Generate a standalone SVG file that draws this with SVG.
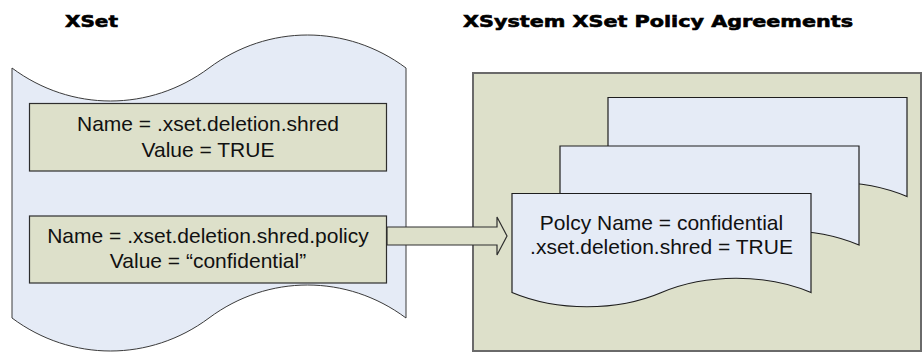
<svg xmlns="http://www.w3.org/2000/svg" width="922" height="352" viewBox="0 0 922 352">
<style>
.title{font-family:"DejaVu Sans","Liberation Sans",sans-serif;font-weight:bold;font-size:16.5px;fill:#000;stroke:#000;stroke-width:0.6}
.txt{font-family:"Liberation Sans",Arial,sans-serif;font-size:21px;fill:#111;text-anchor:middle}
.tape{fill:#e5ebf6;stroke:#3a3a3a;stroke-width:1}
.olive{fill:#dde0ca;stroke:#2e2e2e;stroke-width:1.2}
.doc{fill:#e5ebf6;stroke:#1e1e1e;stroke-width:1.2}
.container{fill:#dde0ca;stroke:#6a6a6a;stroke-width:2}
</style>
<defs>
<path id="docShape" d="M0,0 H299 V99 C254,80 194,80 149.5,99 C105,118 45,118 0,99 Z"/>
</defs>
<g id="title-xset"><text class="title" x="65" y="27" textLength="53" lengthAdjust="spacingAndGlyphs">XSet</text></g>
<g id="title-agreements"><text class="title" x="463" y="27" textLength="390" lengthAdjust="spacingAndGlyphs">XSystem XSet Policy Agreements</text></g>
<g id="xset">
<path class="tape" d="M12,68 C71,112 150,112 209,68 C268,24 347,24 406,68 L406,318 C347,274 268,274 209,318 C150,362 71,362 12,318 Z"/>
</g>
<g id="agreements">
<rect class="container" x="473" y="73" width="448" height="278"/>
</g>
<g id="node-shred">
<rect class="olive" x="29.5" y="103.5" width="357" height="67.5"/>
<text class="txt" x="208" y="131">Name = .xset.deletion.shred</text>
<text class="txt" x="208" y="157">Value = TRUE</text>
</g>
<g id="node-policy">
<rect class="olive" x="29.5" y="216" width="357" height="67"/>
<text class="txt" x="208" y="243">Name = .xset.deletion.shred.policy</text>
<text class="txt" x="208" y="268">Value = “confidential”</text>
</g>
<g id="doc-back1"><use href="#docShape" class="doc" transform="translate(608,97.5)"/></g>
<g id="doc-back2"><use href="#docShape" class="doc" transform="translate(560,146)"/></g>
<g id="doc-front">
<use href="#docShape" class="doc" transform="translate(512,193.5)"/>
<text class="txt" x="661.5" y="230">Polcy Name = confidential</text>
<text class="txt" x="661.5" y="254">.xset.deletion.shred = TRUE</text>
</g>
<g id="connectors">
<polygon class="olive" points="387,227 497,227 497,217 507,236 497,255 497,245 387,245"/>
</g>
</svg>
